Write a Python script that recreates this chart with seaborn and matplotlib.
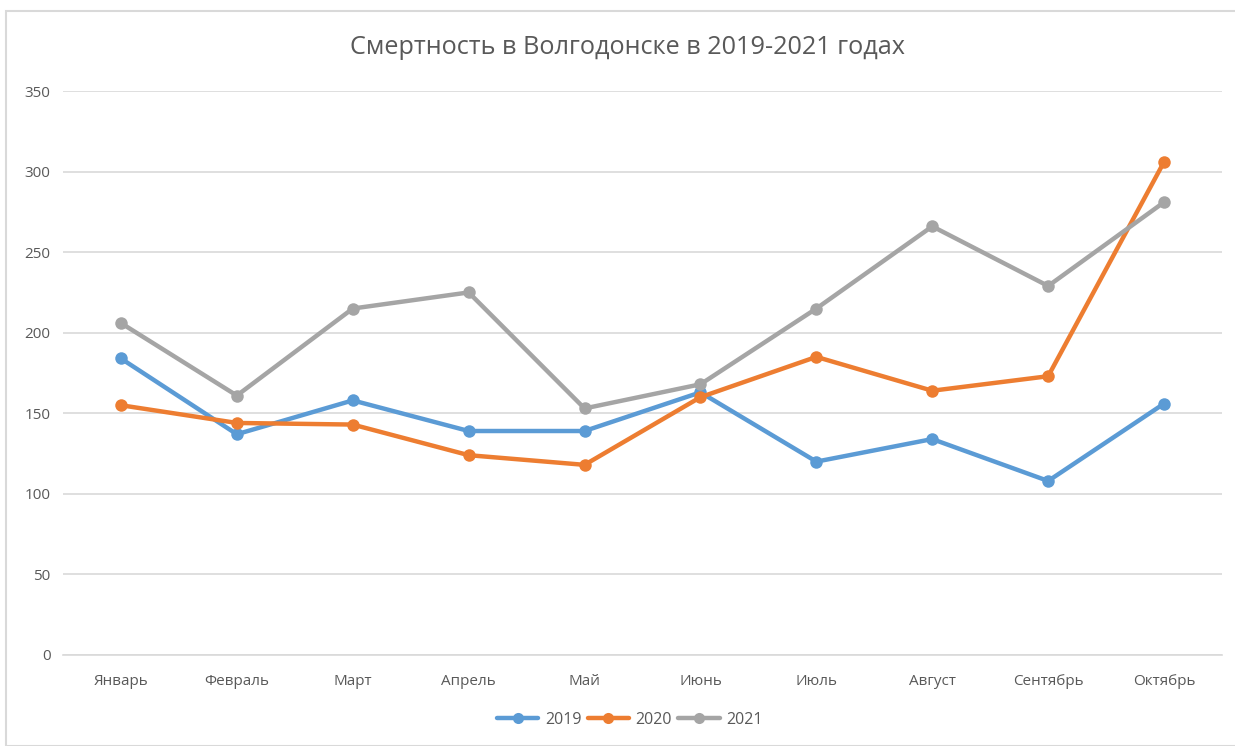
import matplotlib
matplotlib.use("Agg")
import matplotlib.pyplot as plt
import seaborn as sns
import pandas as pd
from matplotlib.patches import Rectangle

months = ["Январь", "Февраль", "Март", "Апрель", "Май", "Июнь",
          "Июль", "Август", "Сентябрь", "Октябрь"]
deaths_2019 = [184, 137, 158, 139, 139, 163, 120, 134, 108, 156]
deaths_2020 = [155, 144, 143, 124, 118, 160, 185, 164, 173, 306]
deaths_2021 = [206, 161, 215, 225, 153, 168, 215, 266, 229, 281]
years = ["2019", "2020", "2021"]
colors = ["#5B9BD5", "#ED7D31", "#A5A5A5"]

df = pd.DataFrame({
    "month": months * 3,
    "pos": list(range(len(months))) * 3,
    "value": deaths_2019 + deaths_2020 + deaths_2021,
    "year": sum([[y] * len(months) for y in years], []),
})

sns.set_theme(style="white")
plt.rcParams["font.family"] = ["Open Sans", "DejaVu Sans"]

fig = plt.figure(figsize=(12.35, 7.46), dpi=100)
ax = fig.add_axes([63 / 1235, 1 - 655 / 746, (1222 - 63) / 1235, 564 / 746])

sns.lineplot(data=df, x="pos", y="value", hue="year", palette=colors,
             marker="o", markersize=9, markeredgewidth=0, linewidth=3.2,
             ax=ax, legend=False, zorder=3)

ax.set_xlim(-0.5, len(months) - 0.5)
ax.set_ylim(0, 350)
ax.set_yticks(range(0, 351, 50))
ax.set_xticks(range(len(months)))
ax.set_xticklabels(months)
ax.set_xlabel("")
ax.set_ylabel("")
ax.yaxis.grid(True, color="#D9D9D9", linewidth=1.2)
ax.xaxis.grid(False)
for s in ["top", "right", "left"]:
    ax.spines[s].set_visible(False)
ax.spines["bottom"].set_color("#D9D9D9")
ax.spines["bottom"].set_linewidth(1.2)
ax.tick_params(axis="both", length=0, labelsize=11, colors="#595959")
ax.tick_params(axis="x", pad=14)
ax.tick_params(axis="y", pad=9)

fig.text(0.508, 1 - 47 / 746, "Смертность в Волгодонске в 2019-2021 годах",
         ha="center", va="center", fontsize=18.2, color="#595959")

handles = [plt.Line2D([], [], color=c, marker="o", markersize=8,
                      markeredgewidth=0, linewidth=3.2) for c in colors]
fig.legend(handles, years, loc="center", bbox_to_anchor=(0.51, 1 - 720 / 746),
           ncol=3, frameon=False, fontsize=11.5, handlelength=2.6,
           columnspacing=0.4, handletextpad=0.4, labelcolor="#595959")

fig.patches.append(Rectangle((6 / 1235, 0), 1.0, 1 - 11 / 746,
                             transform=fig.transFigure, fill=False,
                             edgecolor="#D9D9D9", linewidth=1.5))

fig.savefig("out.png", dpi=100)
